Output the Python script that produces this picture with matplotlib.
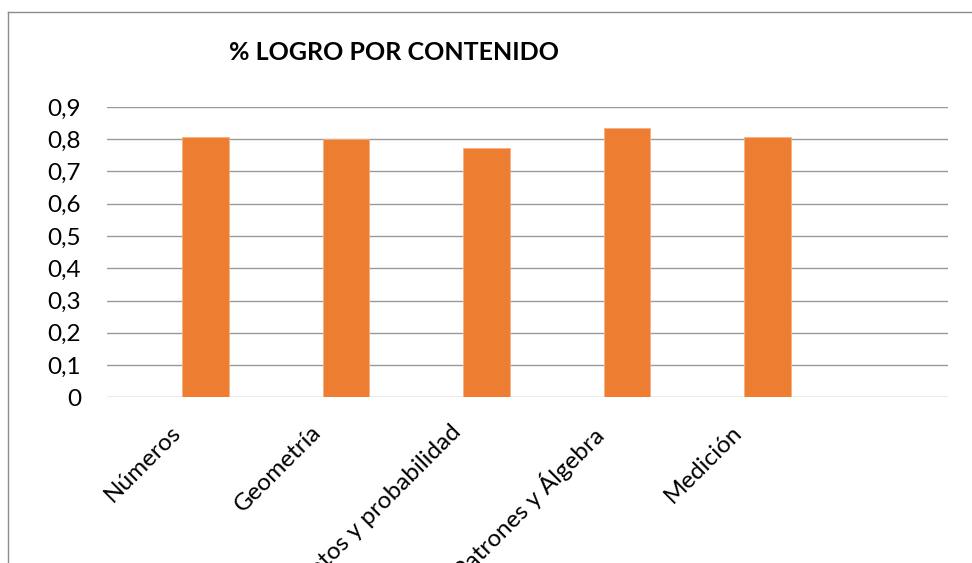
import matplotlib
matplotlib.use("Agg")
import matplotlib.pyplot as plt
from matplotlib.lines import Line2D
from matplotlib.ticker import FixedLocator, FuncFormatter
from matplotlib.transforms import ScaledTranslation

categories = ["Números", "Geometría", "Datos y probabilidad", "Patrones y Álgebra", "Medición"]
logro = [0.806, 0.800, 0.772, 0.834, 0.807]
y_ticks = [0, 0.1, 0.2, 0.3, 0.4, 0.5, 0.6, 0.7, 0.8, 0.9]

plt.rcParams["font.family"] = ["Lato", "DejaVu Sans"]

fig = plt.figure(figsize=(9.72, 5.63), dpi=100)
ax = fig.add_axes([0.1098, 0.2943, 0.8658, 0.5157])

x = list(range(len(categories)))
ax.bar(x, logro, width=0.331, color="#ED7D31", edgecolor="#F4B183", linewidth=0.6, zorder=3)

ax.set_xlim(-0.705, 5.289)
ax.set_ylim(0, 0.9)
ax.yaxis.set_major_locator(FixedLocator(y_ticks))
ax.yaxis.set_major_formatter(FuncFormatter(lambda v, _: "0" if v == 0 else f"{v:.1f}".replace(".", ",")))
ax.grid(axis="y", color="#9a9a9a", linewidth=1.0, zorder=0)
for s in ax.spines.values():
    s.set_visible(False)
ax.tick_params(axis="y", length=0, labelsize=17.5, pad=18.5)
ax.tick_params(axis="x", length=0, labelsize=17.5, pad=6)

ax.set_xticks(x)
ax.set_xticklabels(categories, rotation=45, ha="right", va="top", rotation_mode="anchor")
shift = ScaledTranslation(-0.36, -0.16, fig.dpi_scale_trans)
for lab in ax.get_xticklabels():
    lab.set_transform(lab.get_transform() + shift)

fig.text(0.405, 0.9076, "% LOGRO POR CONTENIDO", ha="center", va="center",
         fontsize=18, fontweight="bold")

# chart border (only left and top edges visible in the crop)
bx = 7.5 / 972
by = 1 - 11.7 / 563
fig.add_artist(Line2D([bx, bx], [0, by], color="#8c8c8c", linewidth=1.0))
fig.add_artist(Line2D([bx, 1], [by, by], color="#8c8c8c", linewidth=1.0))

fig.savefig("out.png", dpi=100)
